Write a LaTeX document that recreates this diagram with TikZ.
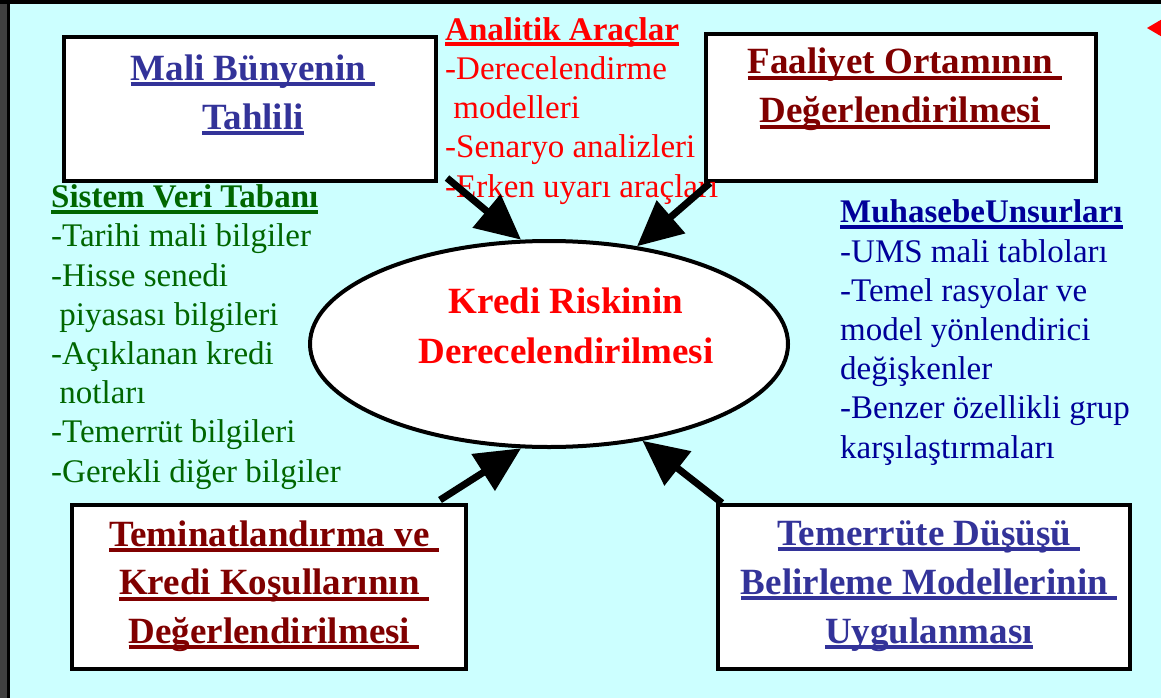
\documentclass[tikz,border=0pt]{standalone}
\usepackage{fontspec}
\setmainfont{Liberation Serif}
\usetikzlibrary{arrows.meta,shapes.geometric}

\definecolor{zemin}{RGB}{204,255,255}
\definecolor{lacivert}{RGB}{51,51,153}
\definecolor{bordo}{RGB}{128,0,0}
\definecolor{koyumavi}{RGB}{0,0,153}
\definecolor{yesil}{RGB}{0,102,0}

% thick underline
\newcommand{\cizgili}[1]{\setbox0\hbox{#1}\rlap{\rule[-6pt]{\wd0}{4pt}}\box0}

\begin{document}
\begin{tikzpicture}[x=1pt,y=-1pt,
  kutu/.style={draw=black, line width=4pt, fill=white, inner sep=0pt},
  baslik/.style={font=\fontsize{37}{49}\selectfont\bfseries, align=center, inner sep=0pt, anchor=base},
  liste/.style={font=\fontsize{33}{39.2}\selectfont, align=left, inner sep=0pt, anchor=base west},
  ok/.style={line width=7pt, -{Triangle[length=45pt,width=42pt]}}]
  \useasboundingbox (0,0) rectangle (1161,698);

  % frame and background
  \fill[zemin] (10,4) rectangle (1161,698);
  \fill[black!75] (0,0) rectangle (7,698);
  \fill[black] (7,0) rectangle (10,698);
  \fill[black] (0,0) rectangle (1161,4);
  \fill[red] (1147,28) -- (1164,18) -- (1164,38) -- cycle;

  % boxes
  \node[kutu, minimum width=372pt, minimum height=144pt] (mali) at (250,109) {};
  \node[kutu, minimum width=390pt, minimum height=147pt] (faaliyet) at (901,107.5) {};
  \node[kutu, minimum width=394pt, minimum height=164pt] (teminat) at (269,587) {};
  \node[kutu, minimum width=412pt, minimum height=164pt] (temerrut) at (924,587) {};

  % titles (placed at the baseline of their last line)
  \node[baslik, text=lacivert] (maliyazi) at (253,129)
    {\cizgili{Mali Bünyenin\ }\\\cizgili{Tahlili}};
  \node[baslik, text=bordo] (faaliyetyazi) at (905,123)
    {\cizgili{Faaliyet Ortamının\ }\\\cizgili{Değerlendirilmesi\ }};
  \node[baslik, text=bordo, font=\fontsize{37}{48.5}\selectfont\bfseries] (teminatyazi) at (274,643)
    {\cizgili{Teminatlandırma ve\ }\\\cizgili{Kredi Koşullarının\ }\\\cizgili{Değerlendirilmesi\ }};
  \node[baslik, text=lacivert] (temerrutyazi) at (929,643)
    {\cizgili{Temerrüte Düşüşü\ }\\\cizgili{Belirleme Modellerinin\ }\\\cizgili{Uygulanması}};

  % center
  \node[draw=black, ellipse, line width=4pt, fill=white,
        minimum width=478pt, minimum height=206pt] (kredi) at (549,344) {};
  \node[baslik, text=red, font=\fontsize{37}{50}\selectfont\bfseries] (krediyazi) at (566,363)
    {Kredi Riskinin\\Derecelendirilmesi};

  % lists
  \node[liste, text=red] (araclar) at (445,197)
    {\cizgili{\bfseries Analitik Araçlar}\\-Derecelendirme\\\ modelleri\\-Senaryo analizleri\\-Erken uyarı araçları};
  \node[liste, text=yesil] (veri) at (51,482)
    {\cizgili{\bfseries Sistem Veri Tabanı}\\-Tarihi mali bilgiler\\-Hisse senedi\\\ piyasası bilgileri\\-Açıklanan kredi\\\ notları\\-Temerrüt bilgileri\\-Gerekli diğer bilgiler};
  \node[liste, text=koyumavi] (muhasebe) at (840,458)
    {\cizgili{\bfseries MuhasebeUnsurları}\\-UMS mali tabloları\\-Temel rasyolar ve\\model yönlendirici\\değişkenler\\-Benzer özellikli grup\\karşılaştırmaları};

  % arrows
  \coordinate (okA) at (447,178);
  \coordinate (okB) at (710,183);
  \coordinate (okC) at (440,500);
  \coordinate (okD) at (722,503);
  \draw[ok] (okA) -- (kredi.105);
  \draw[ok] (okB) -- (kredi.48);
  \draw[ok] (okC) -- (kredi.255);
  \draw[ok] (okD) -- (kredi.314);
\end{tikzpicture}
\end{document}
